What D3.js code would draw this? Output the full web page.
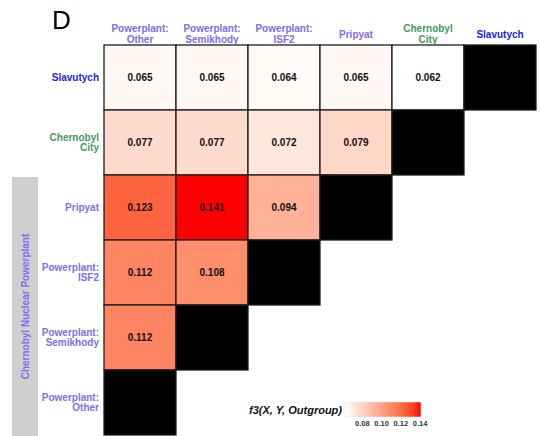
<!DOCTYPE html>
<html>
<head>
<meta charset="utf-8">
<script src="https://cdn.jsdelivr.net/npm/d3@7"></script>
<style>
  html, body { margin: 0; padding: 0; background: #fff; }
  svg { display: block; font-family: "Liberation Sans", Arial, Helvetica, sans-serif; }
</style>
</head>
<body>
<svg id="chart" width="540" height="436"></svg>
<script>
// Populations along the columns (left to right) and rows (top to bottom)
const columns = ["Powerplant: Other", "Powerplant: Semikhody", "Powerplant: ISF2", "Pripyat", "Chernobyl City", "Slavutych"];
const rows = ["Slavutych", "Chernobyl City", "Pripyat", "Powerplant: ISF2", "Powerplant: Semikhody", "Powerplant: Other"];

// f3(X, Y, Outgroup) per row, in column order (lower triangle only)
const slavutychRow = [0.065, 0.065, 0.064, 0.065, 0.062];
const chernobylCityRow = [0.077, 0.077, 0.072, 0.079];
const pripyatRow = [0.123, 0.141, 0.094];
const isf2Row = [0.112, 0.108];
const semikhodyRow = [0.112];
const otherRow = [];

const rowValues = [slavutychRow, chernobylCityRow, pripyatRow, isf2Row, semikhodyRow, otherRow];

// Colour-bar tick labels
const legendTicks = [0.08, 0.10, 0.12, 0.14];

// Label colours by population group
const groupColor = {
  "Slavutych": "#1c1cf5",
  "Chernobyl City": "#3f9a55",
  "Pripyat": "#7f6cf2",
  "Powerplant: ISF2": "#7f6cf2",
  "Powerplant: Semikhody": "#7f6cf2",
  "Powerplant: Other": "#7f6cf2"
};

const svg = d3.select("#chart");

const x = d3.scaleBand().domain(columns).range([104, 536]);
const y = d3.scaleBand().domain(rows).range([45, 435]);

const allValues = rowValues.flat();
const color = d3.scaleLinear()
  .domain(d3.extent(allValues))
  .range(["white", "red"])
  .interpolate(d3.interpolateLab);

// Cells: values, plus black cells on the self-pair diagonal
const cells = [];
rows.forEach((r, i) => {
  rowValues[i].forEach((v, j) => cells.push({ row: r, col: columns[j], value: v }));
  cells.push({ row: r, col: r, value: null });
});

// Group band for the powerplant populations
const npp = ["Pripyat", "Powerplant: ISF2", "Powerplant: Semikhody", "Powerplant: Other"];
svg.append("rect")
  .attr("x", 12).attr("width", 26)
  .attr("y", y(npp[0]) + 2)
  .attr("height", 436 - (y(npp[0]) + 2))
  .attr("fill", "#cfcfcf");
svg.append("text")
  .attr("transform", `translate(25.5,${(y(npp[0]) + 2 + 436) / 2}) rotate(-90)`)
  .attr("text-anchor", "middle")
  .attr("dominant-baseline", "central")
  .attr("font-size", 10).attr("font-weight", "bold")
  .attr("fill", "#7f6cf2")
  .text("Chernobyl Nuclear Powerplant");

const cellG = svg.append("g");
cellG.selectAll("rect")
  .data(cells)
  .join("rect")
  .attr("x", d => x(d.col))
  .attr("y", d => y(d.row))
  .attr("width", x.bandwidth())
  .attr("height", y.bandwidth())
  .attr("fill", d => d.value === null ? "black" : color(d.value))
  .attr("stroke", "#1e1e1e")
  .attr("stroke-width", 1.3);

cellG.selectAll("text")
  .data(cells.filter(d => d.value !== null))
  .join("text")
  .attr("x", d => x(d.col) + x.bandwidth() / 2)
  .attr("y", d => y(d.row) + y.bandwidth() / 2)
  .attr("text-anchor", "middle")
  .attr("dominant-baseline", "central")
  .attr("font-size", 10).attr("font-weight", "bold")
  .attr("fill", "#111")
  .text(d => d3.format(".3f")(d.value));

// Split a population name into display lines
function labelLines(name) {
  if (name.startsWith("Powerplant: ")) return ["Powerplant:", name.slice(12)];
  if (name === "Chernobyl City") return ["Chernobyl", "City"];
  return [name];
}

// Column headers
const colG = svg.append("g");
columns.forEach(c => {
  const lines = labelLines(c);
  const t = colG.append("text")
    .attr("text-anchor", "middle")
    .attr("font-size", 10).attr("font-weight", "bold")
    .attr("fill", groupColor[c]);
  lines.forEach((ln, k) => {
    t.append("tspan")
      .attr("x", x(c) + x.bandwidth() / 2)
      .attr("y", 34 + (k - (lines.length - 1) / 2) * 10.4)
      .attr("dominant-baseline", "central")
      .text(ln);
  });
});

// Row labels
const rowG = svg.append("g");
rows.forEach(r => {
  const lines = labelLines(r);
  const t = rowG.append("text")
    .attr("text-anchor", "end")
    .attr("font-size", 10).attr("font-weight", "bold")
    .attr("fill", groupColor[r]);
  lines.forEach((ln, k) => {
    t.append("tspan")
      .attr("x", 99)
      .attr("y", y(r) + y.bandwidth() / 2 + (k - (lines.length - 1) / 2) * 10.4)
      .attr("dominant-baseline", "central")
      .text(ln);
  });
});

// Panel letter
svg.append("text")
  .attr("x", 52).attr("y", 29)
  .attr("font-size", 26)
  .attr("fill", "#000")
  .text("D");

// Colour bar legend
const lx0 = 345, lx1 = 421, ly = 402, lh = 15;
const legendScale = d3.scaleLinear().domain(color.domain()).range([lx0, lx1]);
const defs = svg.append("defs");
const grad = defs.append("linearGradient").attr("id", "f3grad");
d3.range(0, 1.0001, 0.1).forEach(t => {
  grad.append("stop")
    .attr("offset", `${t * 100}%`)
    .attr("stop-color", color(legendScale.invert(lx0 + t * (lx1 - lx0))));
});
svg.append("rect")
  .attr("x", lx0).attr("y", ly)
  .attr("width", lx1 - lx0).attr("height", lh)
  .attr("fill", "url(#f3grad)")
  .attr("stroke", "#e6e6e6").attr("stroke-width", 0.6);

svg.append("g")
  .selectAll("text")
  .data(legendTicks)
  .join("text")
  .attr("x", d => legendScale(d))
  .attr("y", ly + lh + 6)
  .attr("text-anchor", "middle")
  .attr("dominant-baseline", "central")
  .attr("font-size", 7.5).attr("font-weight", "bold")
  .attr("fill", "#333")
  .text(d => d3.format(".2f")(d));

svg.append("text")
  .attr("x", 342).attr("y", ly + lh / 2)
  .attr("text-anchor", "end")
  .attr("dominant-baseline", "central")
  .attr("font-size", 11).attr("font-weight", "bold").attr("font-style", "italic")
  .attr("fill", "#111")
  .text("f3(X, Y, Outgroup)");
</script>
</body>
</html>
